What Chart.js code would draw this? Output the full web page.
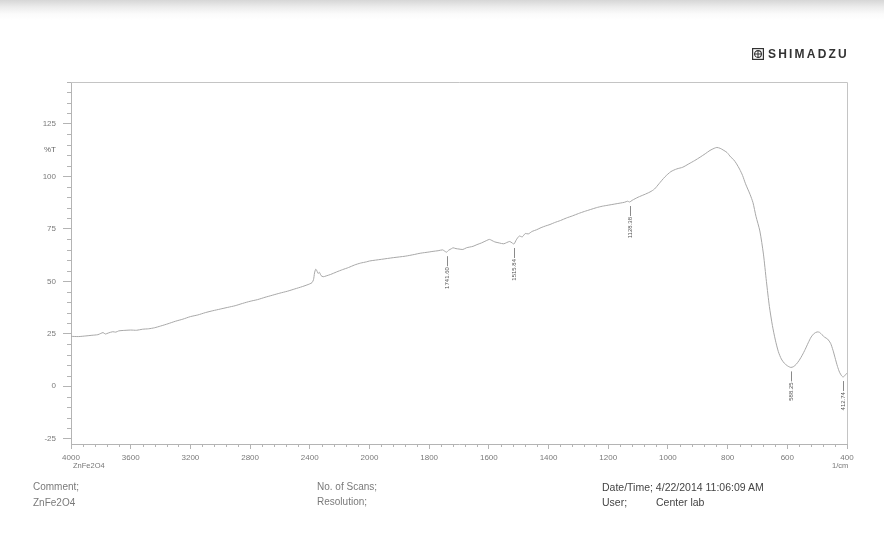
<!DOCTYPE html>
<html>
<head>
<meta charset="utf-8">
<title>ZnFe2O4 FTIR</title>
<script src="https://cdn.jsdelivr.net/npm/chart.js@4.4.1/dist/chart.umd.min.js"></script>
<style>
  html, body { margin: 0; padding: 0; background: #fff; }
  #sheet {
    position: relative; width: 884px; height: 535px; overflow: hidden;
    background: linear-gradient(#d6d6d6 0px, #ececec 7px, #fbfbfb 14px, #fff 20px);
  }
  #sheet canvas { position: absolute; left: 0; top: 0; }
  .txt {
    position: absolute; font-family: "Liberation Sans", Arial, sans-serif;
    white-space: nowrap; line-height: 1;
  }
  .foot { font-size: 10px; color: #7a7a7a; }
  .info { font-size: 10.5px; color: #444; }
  .small { font-size: 7.5px; color: #777; }
  #logo { left: 752px; top: 48px; display: flex; align-items: center; }
  #logo span { font-size: 12px; font-weight: bold; letter-spacing: 2.2px; color: #333; margin-left: 4px; }
</style>
</head>
<body>
<div id="sheet">
  <canvas id="ir" width="884" height="535"></canvas>

  <div id="logo" class="txt">
    <svg width="12" height="12" viewBox="0 0 12 12">
      <rect x="0.6" y="0.6" width="10.8" height="10.8" fill="none" stroke="#333" stroke-width="1.2"/>
      <circle cx="6" cy="6" r="3.4" fill="none" stroke="#333" stroke-width="1.1"/>
      <line x1="6" y1="2" x2="6" y2="10" stroke="#333" stroke-width="1"/>
      <line x1="2" y1="6" x2="10" y2="6" stroke="#333" stroke-width="1"/>
    </svg>
    <span>SHIMADZU</span>
  </div>

  <div class="txt small" style="left:73px;top:462px;">ZnFe2O4</div>
  <div class="txt small" style="left:832px;top:462px;">1/cm</div>

  <div class="txt foot" style="left:33px;top:482px;">Comment;</div>
  <div class="txt foot" style="left:33px;top:498px;">ZnFe2O4</div>
  <div class="txt foot" style="left:317px;top:482px;">No. of Scans;</div>
  <div class="txt foot" style="left:317px;top:497px;">Resolution;</div>
  <div class="txt info" style="left:602px;top:482px;">Date/Time; 4/22/2014 11:06:09 AM</div>
  <div class="txt info" style="left:602px;top:497px;">User;</div>
  <div class="txt info" style="left:656px;top:497px;">Center lab</div>
</div>

<script>
// Spectrum: wavenumber (1/cm) and %T
const wavenumbers = [
  4000, 3950, 3900, 3860, 3820, 3800, 3785, 3770, 3750, 3720, 3700, 3680, 3650, 3600,
  3560, 3520, 3480, 3440, 3400, 3350, 3300, 3250, 3200, 3150, 3100, 3050, 3000, 2950,
  2900, 2850, 2800, 2750, 2700, 2650, 2600, 2550, 2500, 2450, 2400, 2385, 2375, 2368,
  2360, 2352, 2345, 2335, 2325, 2310, 2290, 2260, 2220, 2180, 2140, 2100, 2060, 2020,
  2000, 1960, 1920, 1880, 1850, 1830, 1800, 1787, 1770, 1755, 1748, 1741.60, 1735, 1725,
  1720, 1710, 1700, 1687, 1675, 1653, 1640, 1625, 1607, 1598, 1590, 1580, 1565, 1550,
  1540, 1530, 1522, 1515.84, 1508, 1498, 1488, 1478, 1468, 1455, 1440, 1425, 1410, 1395,
  1380, 1360, 1340, 1320, 1300, 1280, 1260, 1240, 1220, 1200, 1180, 1160, 1145, 1135,
  1128.38, 1120, 1100, 1080, 1060, 1045, 1030, 1010, 990, 970, 950, 930, 910, 892,
  875, 859, 845, 836, 825, 815, 802, 790, 780, 770, 760, 750, 740, 725,
  715, 705, 692, 680, 670, 660, 650, 640, 630, 620, 610, 600, 594, 588.25,
  580, 570, 560, 550, 540, 530, 520, 510, 500, 492, 484, 475, 465, 455,
  447, 440, 432, 425, 418, 412.74, 406, 400
];
const transmittance = [
  23.8, 23.7, 24.0, 24.3, 24.6, 25.2, 25.6, 24.9, 25.4, 26.0, 25.8, 26.4, 26.6, 26.8,
  26.7, 27.2, 27.4, 27.9, 28.7, 29.8, 31.0, 32.0, 33.2, 34.0, 35.1, 36.0, 36.8, 37.6,
  38.4, 39.5, 40.5, 41.3, 42.4, 43.4, 44.4, 45.3, 46.4, 47.5, 48.8, 49.4, 50.8, 54.0,
  55.8, 55.0, 53.8, 54.3, 52.8, 52.2, 52.6, 53.3, 54.5, 55.6, 56.6, 57.8, 58.7, 59.3,
  59.7, 60.5, 61.3, 62.0, 62.8, 63.4, 64.0, 64.3, 64.6, 65.0, 64.4, 63.9, 64.8, 65.6,
  66.0, 65.6, 65.4, 65.2, 66.0, 66.7, 67.5, 68.3, 69.5, 70.0, 69.5, 68.8, 68.3, 67.9,
  68.5, 69.0, 68.3, 67.8, 69.8, 71.6, 71.2, 72.8, 72.6, 73.8, 74.6, 75.6, 76.4, 77.1,
  78.0, 79.0, 80.2, 81.2, 82.3, 83.3, 84.2, 85.1, 85.8, 86.3, 86.8, 87.3, 87.7, 88.2,
  87.8, 88.6, 90.1, 91.3, 92.6, 94.0, 96.5, 99.8, 102.3, 103.6, 104.4, 106.0, 107.6, 109.2,
  110.8, 112.4, 113.4, 113.8, 113.4, 112.6, 111.4, 109.3, 108.0, 106.0, 103.5, 100.5, 96.5, 91.5,
  87.5, 81.0, 74.0, 63.0, 50.0, 38.0, 29.0, 22.0, 16.5, 13.0, 11.0, 9.8, 9.3, 9.0,
  9.3, 10.5, 12.4, 14.8, 17.6, 20.7, 23.5, 25.2, 25.9, 25.7, 24.6, 23.4, 22.5, 20.5,
  17.2, 13.6, 9.5, 6.7, 5.0, 4.4, 5.4, 6.2
];

// Picked peaks printed under the trace
const peakWavenumbers = [1741.60, 1515.84, 1128.38, 588.25, 412.74];
const peakLabels = ["1741.60", "1515.84", "1128.38", "588.25", "412.74"];

// Axis ticks
const xTickLabels = [4000, 3600, 3200, 2800, 2400, 2000, 1800, 1600, 1400, 1200, 1000, 800, 600, 400];
const yTickLabels = [-25, 0, 25, 50, 75, 100, 125];

// The wavenumber axis is drawn at half scale above 2000 1/cm.
function toAxis(w) { return w >= 2000 ? (4000 - w) / 2 : 1000 + (2000 - w); }
function fromAxis(u) { return u <= 1000 ? 4000 - 2 * u : 2000 - (u - 1000); }

const points = wavenumbers.map((w, i) => ({ x: toAxis(w), y: transmittance[i] }));

const FONT = '"Liberation Sans", Arial, sans-serif';
const AXIS_GREY = '#b4b4b4';
const LABEL_GREY = '#7a7a7a';

const decorations = {
  id: 'decorations',
  afterDraw(chart) {
    const { ctx, chartArea: a, scales: { x, y } } = chart;
    ctx.save();

    // frame top and right
    ctx.strokeStyle = '#c4c4c4';
    ctx.lineWidth = 1;
    ctx.beginPath();
    ctx.moveTo(a.left, a.top + 0.5);
    ctx.lineTo(a.right + 0.5, a.top + 0.5);
    ctx.lineTo(a.right + 0.5, a.bottom);
    ctx.stroke();

    // minor ticks
    ctx.strokeStyle = AXIS_GREY;
    ctx.beginPath();
    for (let v = -25; v <= 145; v += 5) {
      if (v % 25 === 0) continue;
      const py = Math.round(y.getPixelForValue(v)) + 0.5;
      ctx.moveTo(a.left - 4, py);
      ctx.lineTo(a.left, py);
    }
    for (let u = 0; u <= 2600; u += 40) {
      if (u % 200 === 0) continue;
      const px = Math.round(x.getPixelForValue(u)) + 0.5;
      ctx.moveTo(px, a.bottom);
      ctx.lineTo(px, a.bottom + 3);
    }
    ctx.stroke();

    // %T unit label
    ctx.fillStyle = '#666';
    ctx.font = '8px ' + FONT;
    ctx.textAlign = 'right';
    ctx.textBaseline = 'middle';
    ctx.fillText('%T', a.left - 15, y.getPixelForValue(112.5));

    // peak markers with vertical labels
    peakWavenumbers.forEach((w, i) => {
      const idx = wavenumbers.indexOf(w);
      const px = Math.round(x.getPixelForValue(toAxis(w))) + 0.5;
      const py = y.getPixelForValue(transmittance[idx]);
      ctx.strokeStyle = '#8a8a8a';
      ctx.beginPath();
      ctx.moveTo(px, py + 4);
      ctx.lineTo(px, py + 14);
      ctx.stroke();
      ctx.save();
      ctx.translate(px, py + 15);
      ctx.rotate(-Math.PI / 2);
      ctx.fillStyle = '#555';
      ctx.font = '6px ' + FONT;
      ctx.textAlign = 'right';
      ctx.textBaseline = 'middle';
      ctx.fillText(peakLabels[i], 0, 0);
      ctx.restore();
    });

    ctx.restore();
  }
};

new Chart(document.getElementById('ir'), {
  type: 'line',
  data: {
    datasets: [{
      data: points,
      borderColor: '#a8a8a8',
      borderWidth: 1,
      pointRadius: 0,
      tension: 0.25,
      fill: false
    }]
  },
  options: {
    responsive: false,
    animation: false,
    devicePixelRatio: 1,
    layout: { padding: { top: 82, right: 37, bottom: 0, left: 0 } },
    plugins: { legend: { display: false }, tooltip: { enabled: false } },
    scales: {
      x: {
        type: 'linear',
        min: 0,
        max: 2600,
        afterBuildTicks(scale) { scale.ticks = xTickLabels.map(w => ({ value: toAxis(w) })); },
        afterFit(scale) { scale.height = 91; },
        border: { display: true, color: AXIS_GREY, width: 1 },
        grid: { drawOnChartArea: false, drawTicks: true, tickLength: 5, tickColor: AXIS_GREY },
        ticks: {
          autoSkip: false,
          maxRotation: 0,
          padding: 4,
          color: LABEL_GREY,
          font: { family: FONT, size: 8 },
          callback: (v) => String(Math.round(fromAxis(v)))
        }
      },
      y: {
        type: 'linear',
        min: -27.5,
        max: 145,
        afterBuildTicks(scale) { scale.ticks = yTickLabels.map(v => ({ value: v })); },
        afterFit(scale) { scale.width = 71; },
        border: { display: true, color: AXIS_GREY, width: 1 },
        grid: { drawOnChartArea: false, drawTicks: true, tickLength: 8, tickColor: AXIS_GREY },
        ticks: {
          autoSkip: false,
          padding: 7,
          color: LABEL_GREY,
          font: { family: FONT, size: 8 },
          callback: (v) => String(v)
        }
      }
    }
  },
  plugins: [decorations]
});
</script>
</body>
</html>
